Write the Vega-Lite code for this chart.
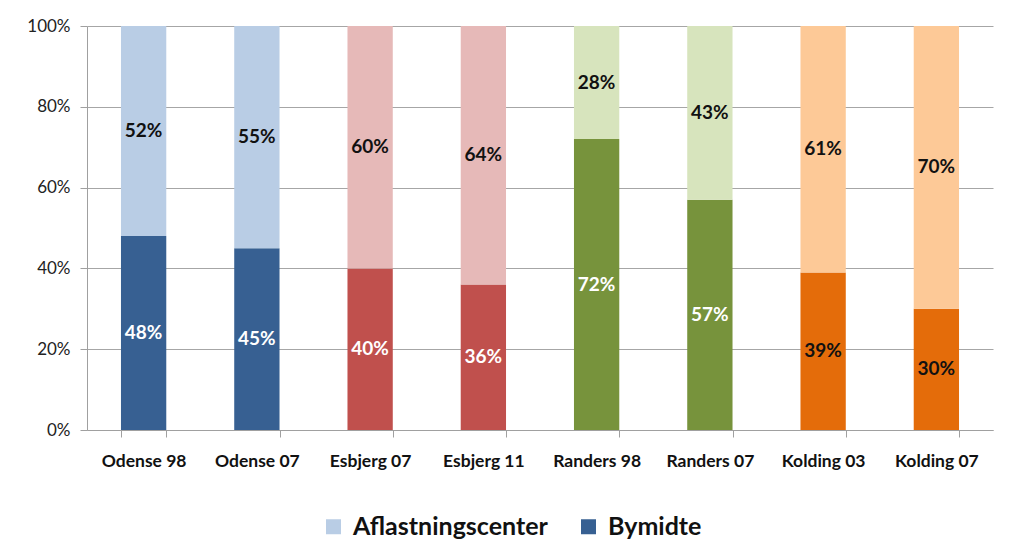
{
  "$schema": "https://vega.github.io/schema/vega-lite/v6.json",
  "width": 906,
  "height": 404,
  "autosize": {"type": "none"},
  "padding": {"left": 87, "top": 26, "right": 21, "bottom": 118},
  "background": "white",
  "data": {
    "values": [
      {"bar": "Odense 98", "city": "Odense", "segment": "Bymidte", "value": 0.48},
      {"bar": "Odense 98", "city": "Odense", "segment": "Aflastningscenter", "value": 0.52},
      {"bar": "Odense 07", "city": "Odense", "segment": "Bymidte", "value": 0.45},
      {"bar": "Odense 07", "city": "Odense", "segment": "Aflastningscenter", "value": 0.55},
      {"bar": "Esbjerg 07", "city": "Esbjerg", "segment": "Bymidte", "value": 0.40},
      {"bar": "Esbjerg 07", "city": "Esbjerg", "segment": "Aflastningscenter", "value": 0.60},
      {"bar": "Esbjerg 11", "city": "Esbjerg", "segment": "Bymidte", "value": 0.36},
      {"bar": "Esbjerg 11", "city": "Esbjerg", "segment": "Aflastningscenter", "value": 0.64},
      {"bar": "Randers 98", "city": "Randers", "segment": "Bymidte", "value": 0.72},
      {"bar": "Randers 98", "city": "Randers", "segment": "Aflastningscenter", "value": 0.28},
      {"bar": "Randers 07", "city": "Randers", "segment": "Bymidte", "value": 0.57},
      {"bar": "Randers 07", "city": "Randers", "segment": "Aflastningscenter", "value": 0.43},
      {"bar": "Kolding 03", "city": "Kolding", "segment": "Bymidte", "value": 0.39},
      {"bar": "Kolding 03", "city": "Kolding", "segment": "Aflastningscenter", "value": 0.61},
      {"bar": "Kolding 07", "city": "Kolding", "segment": "Bymidte", "value": 0.30},
      {"bar": "Kolding 07", "city": "Kolding", "segment": "Aflastningscenter", "value": 0.70}
    ]
  },
  "transform": [{"calculate": "datum.city + ' ' + datum.segment", "as": "key"}],
  "encoding": {
    "x": {
      "field": "bar",
      "type": "nominal",
      "sort": null,
      "scale": {"paddingInner": 0.6, "paddingOuter": 0.3},
      "axis": {
        "title": null,
        "labelAngle": 0,
        "tickBand": "extent",
        "domainColor": "#A0A0A0",
        "tickColor": "#A0A0A0",
        "tickSize": 7,
        "labelPadding": 15,
        "labelFont": "Lato",
        "labelFontWeight": "bold",
        "labelFontSize": 17.5,
        "labelColor": "#111111",
        "grid": false
      }
    }
  },
  "layer": [
    {
      "mark": {"type": "bar"},
      "encoding": {
        "y": {
          "field": "value",
          "type": "quantitative",
          "stack": "zero",
          "scale": {"domain": [0, 1]},
          "axis": {
            "title": null,
            "values": [0, 0.2, 0.4, 0.6, 0.8, 1],
            "format": ".0%",
            "grid": true,
            "gridColor": "#A6A6A6",
            "domainColor": "#A0A0A0",
            "tickColor": "#A0A0A0",
            "tickSize": 7,
            "labelPadding": 10,
            "labelFont": "Lato",
            "labelFontSize": 17,
            "labelColor": "#222222"
          }
        },
        "fill": {
          "field": "key",
          "type": "nominal",
          "scale": {
            "domain": [
              "Odense Aflastningscenter", "Odense Bymidte",
              "Esbjerg Aflastningscenter", "Esbjerg Bymidte",
              "Randers Aflastningscenter", "Randers Bymidte",
              "Kolding Aflastningscenter", "Kolding Bymidte"
            ],
            "range": [
              "#B9CDE5", "#376092",
              "#E6B9B8", "#C0504D",
              "#D7E4BD", "#77933C",
              "#FDC997", "#E46C0A"
            ]
          },
          "legend": {
            "values": ["Odense Aflastningscenter", "Odense Bymidte"],
            "labelExpr": "split(datum.label, ' ')[1]",
            "title": null,
            "orient": "none",
            "legendX": 234,
            "legendY": 488,
            "direction": "horizontal",
            "symbolType": "square",
            "symbolSize": 225,
            "symbolStrokeWidth": 0,
            "labelFont": "Lato",
            "labelFontSize": 25,
            "labelFontWeight": "bold",
            "labelColor": "#111111",
            "labelOffset": 7,
            "columnPadding": 28,
            "labelLimit": 400
          }
        },
        "order": {"field": "segment", "sort": "descending"}
      }
    },
    {
      "transform": [
        {"stack": "value", "groupby": ["bar"], "sort": [{"field": "segment", "order": "descending"}], "as": ["y0", "y1"]},
        {"calculate": "(datum.y0 + datum.y1) / 2", "as": "mid"}
      ],
      "mark": {"type": "text", "font": "Lato", "fontWeight": "bold", "fontSize": 19, "baseline": "middle"},
      "encoding": {
        "y": {"field": "mid", "type": "quantitative", "scale": {"domain": [0, 1]}},
        "text": {"field": "value", "type": "quantitative", "format": ".0%"},
        "color": {
          "condition": {"test": "datum.segment == 'Bymidte' && datum.city != 'Kolding'", "value": "white"},
          "value": "#111111"
        }
      }
    }
  ],
  "config": {"view": {"stroke": null}}
}
